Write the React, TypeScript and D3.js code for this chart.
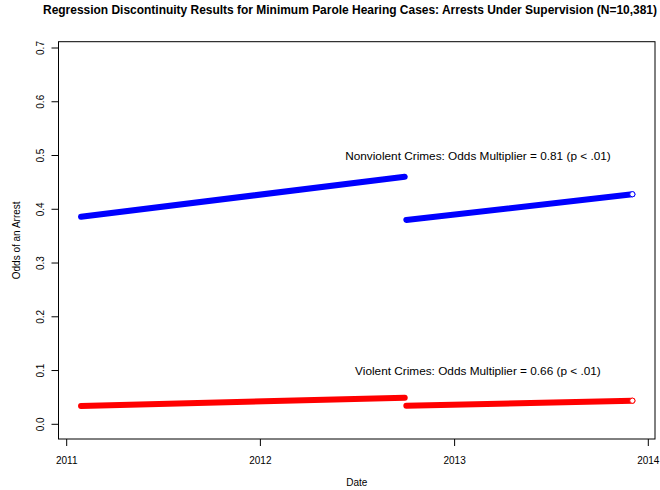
import React from 'react';
import * as d3 from 'd3';

// ---- data ----
const segmentGroups = ['Nonviolent', 'Nonviolent', 'Violent', 'Violent'];
const segmentStartDates = ['2011-01-28', '2012-10-02', '2011-01-28', '2012-10-02'];
const segmentEndDates = ['2012-09-29', '2013-12-02', '2012-09-29', '2013-12-02'];
const segmentStartValues = [0.386, 0.38, 0.034, 0.0346];
const segmentEndValues = [0.4606, 0.428, 0.0495, 0.0439];
const groupColors = ['#0000FF', '#0000FF', '#FF0000', '#FF0000'];

const yTicks = [0, 0.1, 0.2, 0.3, 0.4, 0.5, 0.6, 0.7];
const xTickYears = ['2011', '2012', '2013', '2014'];

const annotationTexts = [
  'Nonviolent Crimes: Odds Multiplier = 0.81 (p < .01)',
  'Violent Crimes: Odds Multiplier = 0.66 (p < .01)',
];
const annotationDates = ['2013-02-14', '2013-02-14'];
const annotationValues = [0.5, 0.1];

const title =
  'Regression Discontinuity Results for Minimum Parole Hearing Cases: Arrests Under Supervision (N=10,381)';
const xLabel = 'Date';
const yLabel = 'Odds of an Arrest';

// ---- layout ----
const W = 660;
const H = 490;
const box = { left: 58.5, right: 655, top: 41.7, bottom: 439 };
const FONT = "'Liberation Sans', Arial, Helvetica, sans-serif";

const parse = d3.utcParse('%Y-%m-%d');
const parseYear = d3.utcParse('%Y');

export default function App() {
  const x = d3
    .scaleUtc()
    .domain([parseYear('2011') as Date, parseYear('2014') as Date])
    .range([66.7, 648.3]);
  const y = d3.scaleLinear().domain([0, 0.7]).range([424.3, 48]);

  const line = d3
    .line<[Date, number]>()
    .x((d) => x(d[0]))
    .y((d) => y(d[1]));

  const segments = segmentGroups.map((g, i) => ({
    group: g,
    color: groupColors[i],
    pts: [
      [parse(segmentStartDates[i]) as Date, segmentStartValues[i]],
      [parse(segmentEndDates[i]) as Date, segmentEndValues[i]],
    ] as [Date, number][],
  }));

  // last segment of each group gets an open circle at its end
  const lastIdx: Record<string, number> = {};
  segments.forEach((s, i) => {
    const cur = lastIdx[s.group];
    if (cur === undefined || s.pts[1][0] > segments[cur].pts[1][0]) lastIdx[s.group] = i;
  });

  return (
    <svg width={W} height={H} style={{ position: 'absolute', left: 0, top: 0, background: '#fff' }}>
      <rect width={W} height={H} fill="#fff" />
      <text
        x={43}
        y={14}
        fontFamily={FONT}
        fontWeight="bold"
        fontSize={12}
        textLength={614}
        lengthAdjust="spacingAndGlyphs"
        fill="#000"
      >
        {title}
      </text>

      {/* segments */}
      {segments.map((s, i) => (
        <g key={i}>
          <path
            d={line(s.pts) || ''}
            stroke={s.color}
            strokeWidth={6}
            strokeLinecap="round"
            fill="none"
          />
          {lastIdx[s.group] === i && (
            <circle
              cx={x(s.pts[1][0])}
              cy={y(s.pts[1][1])}
              r={2.6}
              fill="#fff"
              stroke={s.color}
              strokeWidth={1}
            />
          )}
        </g>
      ))}

      {/* annotations */}
      {annotationTexts.map((t, i) => (
        <text
          key={i}
          x={x(parse(annotationDates[i]) as Date)}
          y={y(annotationValues[i])}
          dy="0.35em"
          textAnchor="middle"
          fontFamily={FONT}
          fontSize={11.8}
          fill="#000"
        >
          {t}
        </text>
      ))}

      {/* box */}
      <rect
        x={box.left}
        y={box.top}
        width={box.right - box.left}
        height={box.bottom - box.top}
        fill="none"
        stroke="#000"
        strokeWidth={1}
      />

      {/* y axis */}
      {yTicks.map((t) => (
        <g key={t}>
          <line x1={box.left - 7} x2={box.left} y1={y(t)} y2={y(t)} stroke="#000" />
          <text
            transform={`translate(${box.left - 15},${y(t)}) rotate(-90)`}
            textAnchor="middle"
            fontFamily={FONT}
            fontSize={10}
            fill="#000"
          >
            {t.toFixed(1)}
          </text>
        </g>
      ))}

      {/* x axis */}
      {xTickYears.map((yr) => {
        const px = x(parseYear(yr) as Date);
        return (
          <g key={yr}>
            <line x1={px} x2={px} y1={box.bottom} y2={box.bottom + 7} stroke="#000" />
            <text x={px} y={464} textAnchor="middle" fontFamily={FONT} fontSize={10} fill="#000">
              {yr}
            </text>
          </g>
        );
      })}

      <text x={(box.left + box.right) / 2} y={486} textAnchor="middle" fontFamily={FONT} fontSize={10} fill="#000">
        {xLabel}
      </text>
      <text
        transform={`translate(20,${(box.top + box.bottom) / 2}) rotate(-90)`}
        textAnchor="middle"
        fontFamily={FONT}
        fontSize={10}
        fill="#000"
      >
        {yLabel}
      </text>
    </svg>
  );
}
